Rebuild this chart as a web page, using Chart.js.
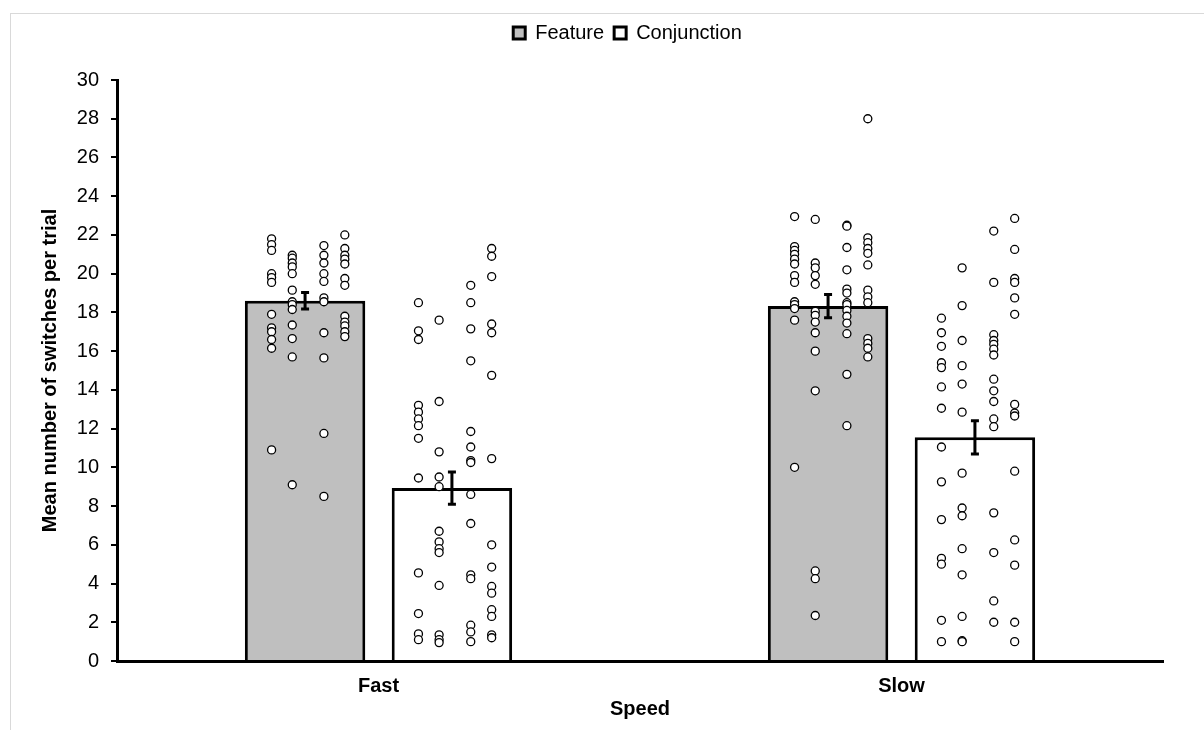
<!DOCTYPE html>
<html>
<head>
<meta charset="utf-8">
<script src="https://cdn.jsdelivr.net/npm/chart.js@4.4.1/dist/chart.umd.min.js"></script>
<style>
  html, body { margin: 0; padding: 0; background: #fff; }
  #wrap { width: 1204px; height: 730px; position: relative; }
</style>
</head>
<body>
<div id="wrap"><canvas id="myChart" width="1204" height="730"></canvas></div>
<script>
const categories = ['Fast', 'Slow'];
const seriesNames = ['Feature', 'Conjunction'];
const featureMeans = [18.6, 18.33];
const conjunctionMeans = [8.93, 11.55];
const featureSE = [0.43, 0.6];
const conjunctionSE = [0.83, 0.86];

// individual participants, split by the jitter column they were drawn in
const fastFeature = [
    [21.8, 21.5, 21.2, 20.0, 19.8, 19.55, 17.9, 17.2, 17.0, 16.6, 16.15, 10.9],
    [20.95, 20.8, 20.55, 20.35, 20.0, 19.15, 18.55, 18.4, 18.15, 17.35, 16.65, 15.7, 9.1],
    [21.45, 20.95, 20.55, 20.0, 19.6, 18.75, 18.55, 16.95, 15.65, 11.75, 8.5],
    [22.0, 21.3, 20.95, 20.75, 20.5, 19.75, 19.4, 17.8, 17.5, 17.3, 17.0, 16.75]
];
const fastConjunction = [
    [18.5, 17.05, 16.6, 13.2, 12.85, 12.5, 12.15, 11.5, 9.45, 4.55, 2.45, 1.4, 1.1],
    [17.6, 13.4, 10.8, 9.5, 9.0, 6.7, 6.15, 5.8, 5.6, 3.9, 1.35, 1.1, 0.95],
    [19.4, 18.5, 17.15, 15.5, 11.85, 11.05, 10.35, 10.25, 8.6, 7.1, 4.45, 4.25, 1.85, 1.5, 1.0],
    [21.3, 20.9, 19.85, 17.4, 16.95, 14.75, 10.45, 6.0, 4.85, 3.85, 3.5, 2.65, 2.3, 1.35, 1.2]
];
const slowFeature = [
    [22.95, 21.4, 21.2, 21.0, 20.75, 20.5, 19.9, 19.55, 18.55, 18.4, 18.2, 17.6, 10.0],
    [22.8, 20.55, 20.3, 19.9, 19.45, 18.05, 17.85, 17.5, 16.95, 16.0, 13.95, 4.65, 4.25, 2.35],
    [22.5, 22.45, 21.35, 20.2, 19.2, 19.0, 18.5, 18.4, 18.1, 17.8, 17.45, 16.9, 14.8, 12.15],
    [28.0, 21.85, 21.6, 21.3, 21.05, 20.45, 19.15, 18.8, 18.5, 16.65, 16.4, 16.15, 15.7]
];
const slowConjunction = [
    [17.7, 16.95, 16.25, 15.4, 15.15, 14.15, 13.05, 11.05, 9.25, 7.3, 5.3, 5.0, 2.1, 1.0],
    [20.3, 18.35, 16.55, 15.25, 14.3, 12.85, 9.7, 7.9, 7.5, 5.8, 4.45, 2.3, 1.05, 1.0],
    [22.2, 19.55, 16.85, 16.55, 16.35, 16.1, 15.8, 14.55, 13.95, 13.4, 12.5, 12.1, 7.65, 5.6, 3.1, 2.0],
    [22.85, 21.25, 19.75, 19.55, 18.75, 17.9, 13.25, 12.8, 12.65, 9.8, 6.25, 4.95, 2.0, 1.0]
];

const FONT = 'Liberation Sans, Arial, sans-serif';
const barShift = 0.1404;                        // bar centre offset from category centre
const colShift = [-0.064, -0.0245, 0.036, 0.076]; // jitter columns inside a bar

function barData(values, side) {
    return values.map((v, i) => ({x: i + side * barShift, y: v}));
}

function scatterData(cols, catIndex, side) {
    const out = [];
    cols.forEach((col, c) => {
        col.forEach(v => out.push({x: catIndex + side * barShift + colShift[c], y: v}));
    });
    return out;
}

function dots(cols, catIndex, side) {
    return {
        type: 'scatter',
        xAxisID: 'x2',
        data: scatterData(cols, catIndex, side),
        pointRadius: 4,
        pointBorderWidth: 1.3,
        pointBackgroundColor: '#fff',
        pointBorderColor: '#000',
        order: 1
    };
}

const errors = [featureSE, conjunctionSE];
const means = [featureMeans, conjunctionMeans];

const errorBars = {
    id: 'errorBars',
    afterDatasetsDraw(chart) {
        const ctx = chart.ctx;
        const y = chart.scales.y;
        ctx.save();
        ctx.strokeStyle = '#000';
        ctx.lineWidth = 3;
        for (let d = 0; d < 2; d++) {
            const meta = chart.getDatasetMeta(d);
            meta.data.forEach((bar, i) => {
                const top = y.getPixelForValue(means[d][i] + errors[d][i]);
                const bot = y.getPixelForValue(means[d][i] - errors[d][i]);
                ctx.beginPath();
                ctx.moveTo(bar.x, top); ctx.lineTo(bar.x, bot);
                ctx.moveTo(bar.x - 4, top); ctx.lineTo(bar.x + 4, top);
                ctx.moveTo(bar.x - 4, bot); ctx.lineTo(bar.x + 4, bot);
                ctx.stroke();
            });
        }
        ctx.restore();
    }
};

const frame = {
    id: 'frame',
    beforeDraw(chart) {
        const ctx = chart.ctx;
        ctx.save();
        ctx.fillStyle = '#fff';
        ctx.fillRect(0, 0, chart.width, chart.height);
        ctx.strokeStyle = '#d9d9d9';
        ctx.lineWidth = 1;
        ctx.strokeRect(10.5, 13.5, chart.width + 20, chart.height + 20);
        ctx.restore();
    }
};

// extra room under the legend, and nudge it right like the original
const legendMargin = {
    id: 'legendMargin',
    beforeInit(chart) {
        const fit = chart.legend.fit;
        chart.legend.fit = function () {
            fit.bind(chart.legend)();
            this.height += 27;
        };
    },
    afterLayout(chart) {
        chart.legend.left += 46;
        chart.legend.right += 46;
    }
};

const ctx = document.getElementById('myChart').getContext('2d');
const myChart = new Chart(ctx, {
    type: 'bar',
    data: {
        labels: categories,
        datasets: [{
            label: seriesNames[0],
            data: barData(featureMeans, -1),
            xAxisID: 'x2',
            backgroundColor: '#bfbfbf',
            borderColor: '#000',
            borderWidth: 3,
            grouped: false,
            categoryPercentage: 1,
            barPercentage: 0.82,
            order: 2
        }, {
            label: seriesNames[1],
            data: barData(conjunctionMeans, 1),
            xAxisID: 'x2',
            backgroundColor: '#fff',
            borderColor: '#000',
            borderWidth: 3,
            grouped: false,
            categoryPercentage: 1,
            barPercentage: 0.82,
            order: 2
        },
        dots(fastFeature, 0, -1),
        dots(fastConjunction, 0, 1),
        dots(slowFeature, 1, -1),
        dots(slowConjunction, 1, 1)]
    },
    options: {
        responsive: false,
        animation: false,
        layout: {padding: {top: 13, right: 41, left: 0, bottom: 0}},
        plugins: {
            tooltip: {enabled: false},
            legend: {
                position: 'top',
                labels: {
                    color: '#000',
                    font: {family: FONT, size: 20},
                    boxWidth: 12,
                    boxHeight: 12,
                    padding: 10,
                    filter: item => item.datasetIndex < 2
                }
            }
        },
        scales: {
            x: {
                type: 'category',
                offset: true,
                grid: {display: false, drawTicks: false},
                border: {color: '#000', width: 3},
                ticks: {color: '#000', padding: 13, font: {family: FONT, size: 20, weight: 'bold'}},
                title: {display: true, text: 'Speed', color: '#000', padding: {top: 0, bottom: 9},
                        font: {family: FONT, size: 20, weight: 'bold'}},
                afterFit(s) { s.height = 69; }
            },
            x2: {type: 'linear', min: -0.5, max: 1.5, offset: false, display: false,
                 ticks: {stepSize: 2}},
            y: {
                min: 0, max: 30,
                ticks: {stepSize: 2, color: '#000', padding: 12, font: {family: FONT, size: 20}},
                grid: {drawOnChartArea: false, drawTicks: true, tickLength: 6, color: '#000', lineWidth: 2},
                border: {color: '#000', width: 3},
                title: {display: true, text: 'Mean number of switches per trial', color: '#000',
                        padding: {top: 38, bottom: 0}, font: {family: FONT, size: 20, weight: 'bold'}},
                afterFit(s) { s.width = 117; }
            }
        }
    },
    plugins: [frame, legendMargin, errorBars]
});
</script>
</body>
</html>
